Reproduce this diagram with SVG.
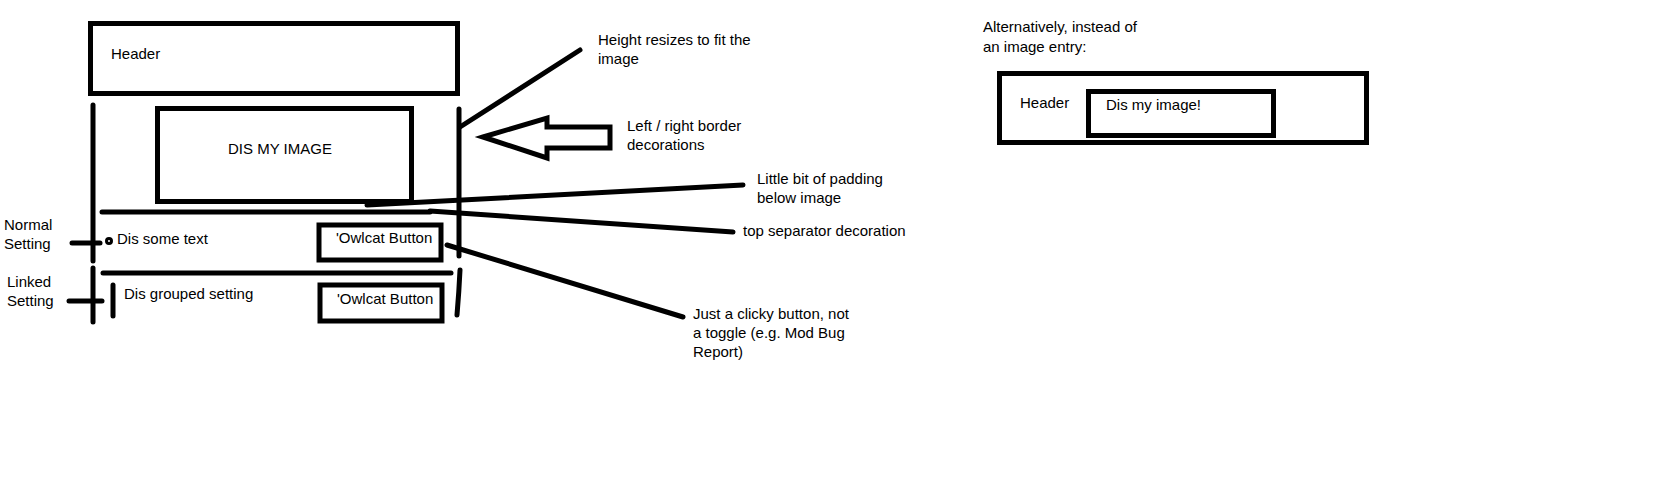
<svg xmlns="http://www.w3.org/2000/svg" width="1666" height="500" viewBox="0 0 1666 500">
<style>
  .box { fill: none; stroke: #000; stroke-width: 5; }
  .ln { fill: none; stroke: #000; stroke-width: 5; stroke-linecap: round; }
  text { font-family: "Liberation Sans", Arial, sans-serif; font-size: 15px; fill: #000; }
</style>
<rect width="1666" height="500" fill="#fff"/>
<g id="header">
  <rect class="box" x="90.5" y="23.5" width="367" height="70"/>
  <text x="111" y="59">Header</text>
</g>
<g id="image">
  <rect class="box" x="157.5" y="108.5" width="254" height="93"/>
  <text x="228" y="154">DIS MY IMAGE</text>
</g>
<g id="border-left">
  <line class="ln" x1="93" y1="105" x2="93" y2="261"/>
  <line class="ln" x1="93" y1="268" x2="93" y2="322"/>
</g>
<g id="border-right">
  <line class="ln" x1="459" y1="109" x2="459" y2="256"/>
  <path class="ln" d="M460 270 Q459 292 457 315"/>
</g>
<g id="separators">
  <line class="ln" x1="102" y1="212" x2="430" y2="212"/>
  <line class="ln" x1="103" y1="273" x2="451" y2="273"/>
</g>
<g id="normal-setting">
  <circle cx="109" cy="241" r="2.5" fill="#fff" stroke="#000" stroke-width="3"/>
  <text x="117" y="244">Dis some text</text>
  <rect class="box" x="319" y="225" width="122" height="35" stroke-width="4.5"/>
  <text x="336" y="243">'Owlcat Button</text>
</g>
<g id="linked-setting">
  <line class="ln" x1="113" y1="285" x2="113" y2="316"/>
  <text x="124" y="299">Dis grouped setting</text>
  <rect class="box" x="320" y="285" width="122" height="36" stroke-width="4.5"/>
  <text x="337" y="304">'Owlcat Button</text>
</g>
<g id="label-normal">
  <text x="4" y="230">Normal</text>
  <text x="4" y="249">Setting</text>
</g>
<g id="label-linked">
  <text x="7" y="287">Linked</text>
  <text x="7" y="306">Setting</text>
</g>
<g id="arrow">
  <polygon class="box" stroke-linejoin="miter" points="483,137 547,118 547,127 610,127 610,148 547,148 547,158"/>
</g>
<g id="annotations">
  <text x="598" y="45">Height resizes to fit the</text>
  <text x="598" y="64">image</text>
  <text x="627" y="131">Left / right border</text>
  <text x="627" y="150">decorations</text>
  <text x="757" y="184">Little bit of padding</text>
  <text x="757" y="203">below image</text>
  <text x="743" y="236">top separator decoration</text>
  <text x="693" y="319">Just a clicky button, not</text>
  <text x="693" y="338">a toggle (e.g. Mod Bug</text>
  <text x="693" y="357">Report)</text>
</g>
<g id="connectors">
  <line class="ln" x1="460" y1="127" x2="580" y2="50"/>
  <line class="ln" x1="367" y1="205" x2="743" y2="185"/>
  <line class="ln" x1="430" y1="211" x2="733" y2="232"/>
  <line class="ln" x1="447" y1="245" x2="683" y2="317"/>
  <line class="ln" x1="72" y1="243" x2="100" y2="243"/>
  <line class="ln" x1="69" y1="301" x2="102" y2="301"/>
</g>
<g id="alt-caption">
  <text x="983" y="32">Alternatively, instead of</text>
  <text x="983" y="52">an image entry:</text>
</g>
<g id="alt-entry">
  <rect class="box" x="999.5" y="73.5" width="367" height="69"/>
  <text x="1020" y="108">Header</text>
</g>
<g id="alt-image">
  <rect class="box" x="1088.5" y="91.5" width="185" height="44"/>
  <text x="1106" y="110">Dis my image!</text>
</g>
</svg>
